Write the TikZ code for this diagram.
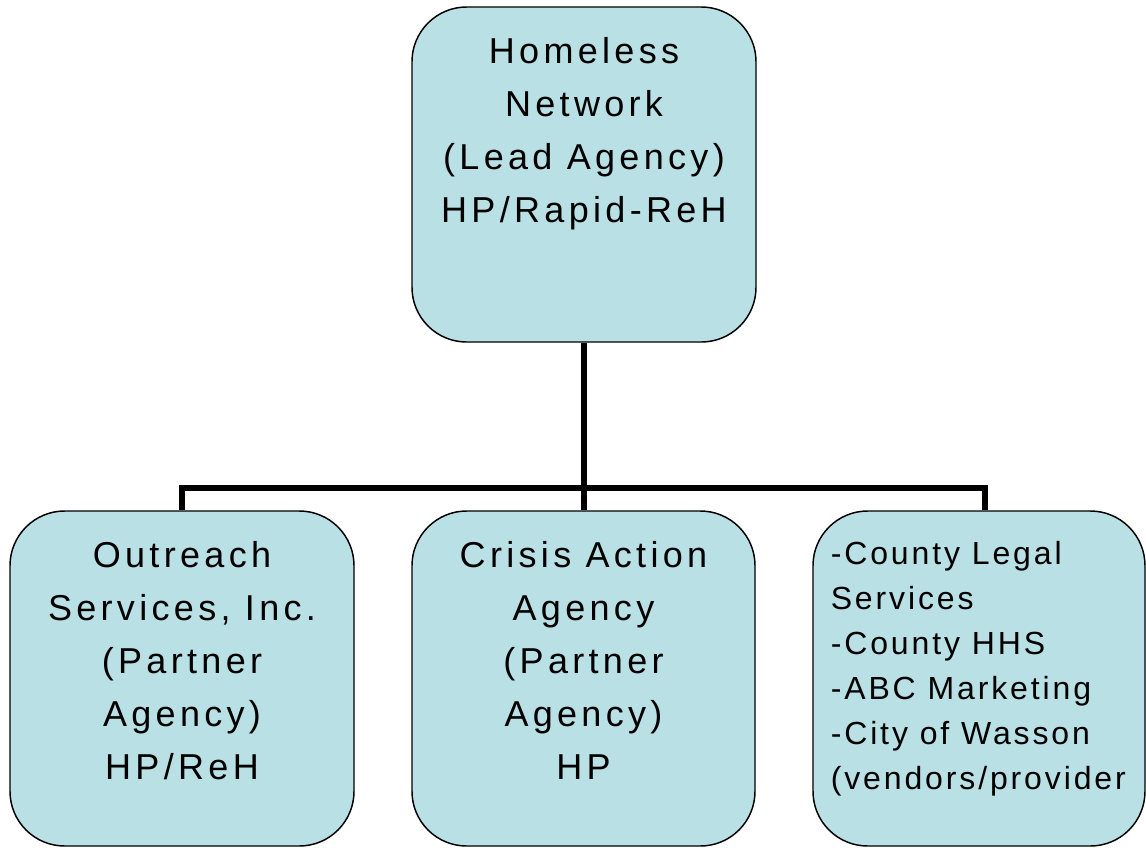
\documentclass[tikz,border=0pt]{standalone}
\usepackage{fontspec}
\setmainfont{Liberation Sans}[LetterSpace=12]
\usetikzlibrary{positioning,calc}
\definecolor{boxfill}{RGB}{185,224,228}

\tikzset{every picture/.style={line width=0.75pt}}
\tikzset{
  orgbox/.style={draw, line width=1.1pt, fill=boxfill, rounded corners=41pt,
    minimum width=258pt, minimum height=251.25pt, inner sep=0pt},
  orgtxt/.style={font=\fontsize{27}{39.75}\selectfont, align=center, inner sep=0pt, anchor=north},
  listtxt/.style={font=\fontsize{24}{33.75}\selectfont\addfontfeature{LetterSpace=9}, align=left, inner sep=0pt, anchor=north west},
  link/.style={line width=4.5pt}
}

\begin{document}
\begin{tikzpicture}[x=0.75pt,y=0.75pt,yscale=-1,xscale=1]
\useasboundingbox (0,0) rectangle (1146,847);

%Shape: Rounded Rect, lead agency
\node [orgbox] (lead) at (584,174.5) {};
%Shape: Rounded Rect, partners
\node [orgbox] (outreach) at (182,678.5) {};
\node [orgbox, minimum width=257.25pt] (crisis) at (583.5,678.5) {};
\node [orgbox, minimum width=249pt] (vendors) at (979,678.5) {};

%Straight Lines
\coordinate (hub) at ($(lead.south)+(0,145)$);
\coordinate (vdrop) at ($(vendors.north)+(6,0)$);
\draw [link] (lead.south) -- (hub);
\draw [link] (hub) -| (outreach.north);
\draw [link] (hub) -| (crisis.north);
\draw [link] (hub) -| (vdrop);

% Text Node
\node [orgtxt] (leadtxt) at ($(lead.north)+(0,31)$) {Homeless\\Network\\(Lead Agency)\\HP/Rapid-ReH};
% Text Node
\node [orgtxt] (outreachtxt) at ($(outreach.north)+(0,31)$) {Outreach\\Services, Inc.\\(Partner\\Agency)\\HP/ReH};
% Text Node
\node [orgtxt] (crisistxt) at ($(crisis.north)+(0,31)$) {Crisis Action\\Agency\\(Partner\\Agency)\\HP};
% Text Node
\node [listtxt] (vendorstxt) at ($(vendors.north west)+(18,31)$) {-County Legal\\Services\\-County HHS\\-ABC Marketing\\-City of Wasson\\(vendors/provider};

\end{tikzpicture}
\end{document}
